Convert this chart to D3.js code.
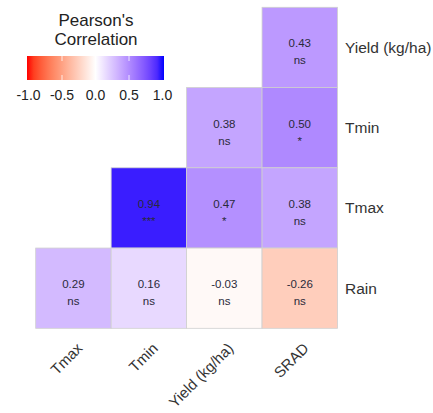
<!DOCTYPE html>
<html>
<head>
<meta charset="utf-8">
<script src="https://cdn.jsdelivr.net/npm/d3@7"></script>
<style>
  html, body { margin: 0; padding: 0; background: #ffffff; }
  svg { display: block; font-family: "Liberation Sans", Arial, sans-serif; }
</style>
</head>
<body>
<svg id="chart" width="433" height="413"></svg>
<script>
// ---- data ----
const colVars = ["Tmax", "Tmin", "Yield (kg/ha)", "SRAD"];
const rowVars = ["Yield (kg/ha)", "Tmin", "Tmax", "Rain"];
const cellRow = ["Yield (kg/ha)", "Tmin", "Tmin", "Tmax", "Tmax", "Tmax", "Rain", "Rain", "Rain", "Rain"];
const cellCol = ["SRAD", "Yield (kg/ha)", "SRAD", "Tmin", "Yield (kg/ha)", "SRAD", "Tmax", "Tmin", "Yield (kg/ha)", "SRAD"];
const corrValues = [0.43, 0.38, 0.50, 0.94, 0.47, 0.38, 0.29, 0.16, -0.03, -0.26];
const signif = ["ns", "ns", "*", "***", "*", "ns", "ns", "ns", "ns", "ns"];
const legendTicks = [-1.0, -0.5, 0.0, 0.5, 1.0];
const legendTitle = ["Pearson's", "Correlation"];

const cells = corrValues.map((v, i) => ({ row: cellRow[i], col: cellCol[i], value: v, sig: signif[i] }));
const fmt2 = v => d3.format(".2f")(v).replace("\u2212", "-");
const fmt1 = v => d3.format(".1f")(v).replace("\u2212", "-");

const svg = d3.select("#chart");

const x = d3.scaleBand().domain(colVars).range([35.7, 337.5]).padding(0);
const y = d3.scaleBand().domain(rowVars).range([7.3, 328.3]).padding(0);

const color = d3.scaleLinear()
  .domain([-1, 0, 1])
  .range(["#ff0000", "#ffffff", "#0000ff"])
  .interpolate(d3.interpolateLab)
  .clamp(true);

// tiles
svg.append("g").selectAll("rect").data(cells).join("rect")
  .attr("x", d => x(d.col))
  .attr("y", d => y(d.row))
  .attr("width", x.bandwidth())
  .attr("height", y.bandwidth())
  .attr("fill", d => color(d.value))
  .attr("stroke", "#cfcfcf")
  .attr("stroke-width", 0.8);

// cell labels
const lab = svg.append("g").attr("fill", "#2a2a3a").attr("font-size", 11.5).attr("text-anchor", "middle");
lab.selectAll("text.v").data(cells).join("text").attr("class", "v")
  .attr("x", d => x(d.col) + x.bandwidth() / 2)
  .attr("y", d => y(d.row) + y.bandwidth() / 2)
  .text(d => fmt2(d.value));
lab.selectAll("text.s").data(cells).join("text").attr("class", "s")
  .attr("x", d => x(d.col) + x.bandwidth() / 2)
  .attr("y", d => y(d.row) + y.bandwidth() / 2 + 17)
  .text(d => d.sig);

// right axis (row labels)
const yAxis = d3.axisRight(y).tickSize(0).tickPadding(7.5);
const gy = svg.append("g").attr("transform", "translate(337.5,0)").call(yAxis);
gy.select(".domain").remove();
gy.selectAll("text").attr("font-size", 15.5).attr("fill", "#333").attr("font-family", "Liberation Sans, Arial, sans-serif").attr("dy", "0.35em");

// bottom axis (column labels)
const xAxis = d3.axisBottom(x).tickSize(0).tickPadding(0);
const gx = svg.append("g").attr("transform", "translate(0,328.3)").call(xAxis);
gx.select(".domain").remove();
gx.selectAll("text")
  .attr("font-size", 15).attr("fill", "#333").attr("font-family", "Liberation Sans, Arial, sans-serif")
  .attr("text-anchor", "end")
  .attr("dy", null).attr("y", 0)
  .attr("transform", "translate(10,21) rotate(-45)");

// legend
const lg = svg.append("g");
lg.selectAll("text.t").data(legendTitle).join("text").attr("class", "t")
  .attr("x", 96).attr("y", (d, i) => 26 + i * 19)
  .attr("text-anchor", "middle").attr("font-size", 17).attr("fill", "#222")
  .text(d => d);

const lx = d3.scaleLinear().domain([-1, 1]).range([28.5, 162.5]);
const defs = svg.append("defs");
const grad = defs.append("linearGradient").attr("id", "lgrad");
d3.range(0, 1.0001, 0.05).forEach(t => {
  grad.append("stop").attr("offset", t).attr("stop-color", color(-1 + 2 * t));
});
lg.append("rect").attr("x", 27).attr("y", 56).attr("width", 137).attr("height", 24).attr("fill", "url(#lgrad)");
const tickVals = legendTicks.filter(v => Math.abs(v) < 1);
lg.selectAll("line.t1").data(tickVals).join("line").attr("class", "t1")
  .attr("x1", d => lx(d)).attr("x2", d => lx(d)).attr("y1", 56).attr("y2", 61)
  .attr("stroke", "white").attr("stroke-width", 1).attr("opacity", 0.8);
lg.selectAll("line.t2").data(tickVals).join("line").attr("class", "t2")
  .attr("x1", d => lx(d)).attr("x2", d => lx(d)).attr("y1", 75).attr("y2", 80)
  .attr("stroke", "white").attr("stroke-width", 1).attr("opacity", 0.8);
lg.selectAll("text.l").data(legendTicks).join("text").attr("class", "l")
  .attr("x", d => lx(d)).attr("y", 100)
  .attr("text-anchor", "middle").attr("font-size", 14).attr("fill", "#222")
  .text(d => fmt1(d));
</script>
</body>
</html>
